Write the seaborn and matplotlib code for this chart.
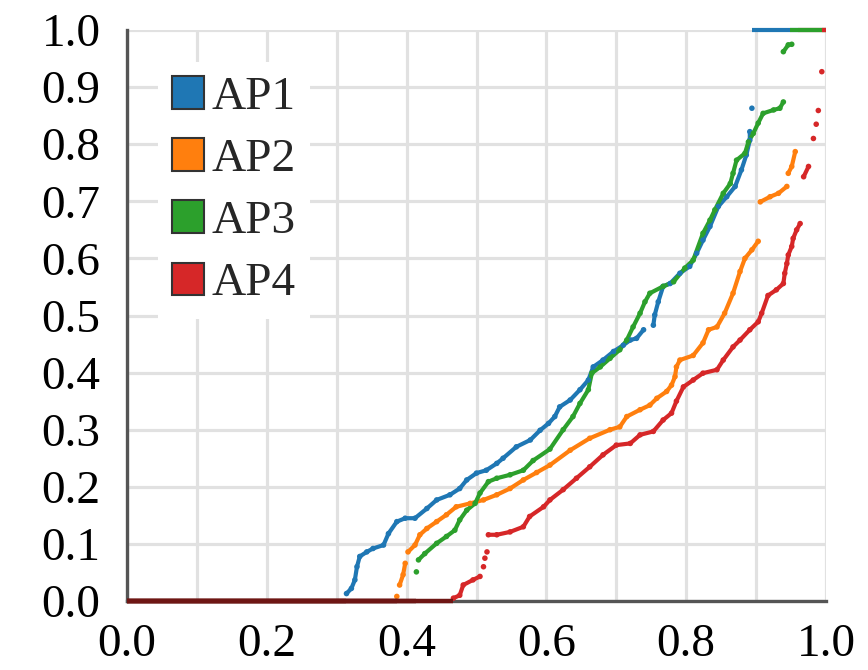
import numpy as np
import pandas as pd
import matplotlib
matplotlib.use("Agg")
import matplotlib.pyplot as plt
from matplotlib.patches import Patch
import seaborn as sns

# ---------------- data ----------------
series_names = ["AP1", "AP2", "AP3", "AP4"]
colors = ["#1f77b4", "#ff7f0e", "#2ca02c", "#d62728"]

ap1_x = [0.314, 0.321, 0.326, 0.329, 0.333, 0.343, 0.352, 0.367, 0.374, 0.386, 0.398, 0.412,
         0.429, 0.443, 0.462, 0.476, 0.486, 0.500, 0.514, 0.529, 0.538, 0.557, 0.577, 0.591,
         0.603, 0.612, 0.619, 0.634, 0.648, 0.660, 0.667, 0.681, 0.696, 0.710, 0.720, 0.729,
         0.739, 0.753, 0.755, 0.760, 0.767, 0.777, 0.791, 0.805, 0.815, 0.824, 0.834, 0.846,
         0.858, 0.870, 0.879, 0.886, 0.891, 0.891, 0.894]
ap1_y = [0.013, 0.022, 0.037, 0.060, 0.078, 0.086, 0.092, 0.098, 0.118, 0.139, 0.145, 0.145,
         0.162, 0.177, 0.186, 0.197, 0.212, 0.224, 0.229, 0.241, 0.250, 0.270, 0.282, 0.299,
         0.311, 0.323, 0.340, 0.352, 0.370, 0.387, 0.410, 0.422, 0.437, 0.448, 0.457, 0.460,
         0.475, 0.483, 0.501, 0.524, 0.551, 0.556, 0.574, 0.586, 0.609, 0.632, 0.656, 0.691,
         0.708, 0.726, 0.755, 0.781, 0.807, 0.822, 0.863]
ap1_breaks = [37, 54]

ap2_x = [0.386, 0.390, 0.395, 0.398, 0.402, 0.412, 0.419, 0.429, 0.443, 0.457, 0.471, 0.491,
         0.510, 0.529, 0.548, 0.567, 0.586, 0.605, 0.634, 0.662, 0.691, 0.705, 0.715, 0.734,
         0.748, 0.758, 0.772, 0.779, 0.784, 0.786, 0.791, 0.810, 0.824, 0.832, 0.844, 0.855,
         0.867, 0.877, 0.884, 0.894, 0.903, 0.906, 0.920, 0.932, 0.944, 0.946, 0.951, 0.956]
ap2_y = [0.008, 0.028, 0.046, 0.066, 0.086, 0.098, 0.116, 0.127, 0.139, 0.151, 0.165, 0.171,
         0.177, 0.186, 0.197, 0.212, 0.225, 0.238, 0.264, 0.285, 0.300, 0.305, 0.323, 0.335,
         0.343, 0.355, 0.367, 0.378, 0.393, 0.410, 0.422, 0.430, 0.452, 0.475, 0.480, 0.504,
         0.539, 0.577, 0.600, 0.615, 0.630, 0.699, 0.708, 0.714, 0.726, 0.749, 0.761, 0.787]
ap2_breaks = [1, 4, 41, 45]

ap3_x = [0.414, 0.417, 0.426, 0.443, 0.457, 0.469, 0.476, 0.486, 0.498, 0.505, 0.517, 0.529,
         0.548, 0.567, 0.581, 0.605, 0.624, 0.638, 0.648, 0.660, 0.665, 0.677, 0.691, 0.705,
         0.715, 0.724, 0.734, 0.741, 0.748, 0.767, 0.782, 0.798, 0.810, 0.824, 0.834, 0.841,
         0.853, 0.863, 0.867, 0.872, 0.884, 0.889, 0.896, 0.903, 0.910, 0.925, 0.934, 0.939,
         0.939, 0.946, 0.951]
ap3_y = [0.051, 0.072, 0.083, 0.101, 0.113, 0.124, 0.142, 0.159, 0.171, 0.189, 0.209, 0.215,
         0.221, 0.229, 0.246, 0.266, 0.300, 0.323, 0.346, 0.370, 0.399, 0.410, 0.425, 0.440,
         0.457, 0.480, 0.504, 0.524, 0.539, 0.551, 0.559, 0.583, 0.597, 0.644, 0.667, 0.685,
         0.714, 0.731, 0.749, 0.772, 0.784, 0.804, 0.819, 0.837, 0.854, 0.860, 0.863, 0.874,
         0.962, 0.974, 0.975]
ap3_breaks = [1, 48]

ap4_x = [0.467, 0.476, 0.481, 0.495, 0.505, 0.510, 0.512, 0.515, 0.517, 0.529, 0.548, 0.567,
         0.576, 0.596, 0.605, 0.624, 0.643, 0.662, 0.681, 0.700, 0.720, 0.734, 0.753, 0.767,
         0.779, 0.786, 0.796, 0.810, 0.824, 0.844, 0.853, 0.867, 0.877, 0.891, 0.903, 0.908,
         0.917, 0.929, 0.939, 0.941, 0.944, 0.946, 0.951, 0.953, 0.958, 0.963, 0.968, 0.975,
         0.982, 0.986, 0.989, 0.994]
ap4_y = [0.005, 0.010, 0.028, 0.037, 0.043, 0.060, 0.075, 0.086, 0.116, 0.116, 0.121, 0.130,
         0.148, 0.165, 0.177, 0.195, 0.215, 0.235, 0.256, 0.273, 0.276, 0.291, 0.297, 0.317,
         0.329, 0.350, 0.375, 0.387, 0.399, 0.405, 0.422, 0.445, 0.457, 0.475, 0.489, 0.504,
         0.535, 0.545, 0.556, 0.574, 0.591, 0.606, 0.621, 0.635, 0.650, 0.661, 0.743, 0.761,
         0.810, 0.835, 0.859, 0.927]
ap4_breaks = [5, 6, 7, 8, 46, 48, 49, 50, 51]

# x where each curve leaves 0 and where it sits at 1
zero_until = [0.314, 0.386, 0.414, 0.467]
one_from = [0.894, 0.960, 0.948, 0.994]

xs = [ap1_x, ap2_x, ap3_x, ap4_x]
ys = [ap1_y, ap2_y, ap3_y, ap4_y]
brks = [ap1_breaks, ap2_breaks, ap3_breaks, ap4_breaks]

y_ticks = [0.0, 0.1, 0.2, 0.3, 0.4, 0.5, 0.6, 0.7, 0.8, 0.9, 1.0]
x_ticks = [0.0, 0.2, 0.4, 0.6, 0.8, 1.0]

# ---------------- build table ----------------
rows = []
for name, x, y, b in zip(series_names, xs, ys, brks):
    seg = 0
    for i, (xi, yi) in enumerate(zip(x, y)):
        if i in b:
            seg += 1
        rows.append((name, seg, xi, yi))
df = pd.DataFrame(rows, columns=["series", "seg", "x", "y"])

# ---------------- style ----------------
sns.set_style("whitegrid")
plt.rcParams["font.family"] = ["Liberation Serif", "DejaVu Serif"]

fig = plt.figure(figsize=(8.68, 6.70), dpi=100)
ax = fig.add_axes([127 / 868, 1 - 601 / 670, 699 / 868, 571 / 670])

grid_c = "#e1e1e1"
ax.set_xlim(0, 1)
ax.set_ylim(0, 1)
ax.set_xticks(x_ticks)
ax.set_xticks([0.1, 0.3, 0.5, 0.7, 0.9], minor=True)
ax.set_yticks(y_ticks)
ax.set_xticklabels([f"{v:.1f}" for v in x_ticks])
ax.set_yticklabels([f"{v:.1f}" for v in y_ticks])
ax.grid(True, which="both", color=grid_c, linewidth=2.3)
ax.set_axisbelow(True)

for s in ["top", "right"]:
    ax.spines[s].set_visible(False)
for s in ["left", "bottom"]:
    ax.spines[s].set_color("#555555")
    ax.spines[s].set_linewidth(2.4)

ax.tick_params(axis="both", which="major", length=12, width=2.4, color="#555555",
               labelsize=34, labelcolor="black", direction="out")
ax.tick_params(axis="y", pad=7)
ax.tick_params(axis="x", pad=4)
ax.tick_params(axis="x", which="minor", length=0)

# curves: dense dot chains drawn as line + dots
sns.lineplot(data=df, x="x", y="y", hue="series", units="seg", estimator=None,
             sort=False, palette=colors, hue_order=series_names, linewidth=3.0,
             legend=False, ax=ax, clip_on=False, zorder=4)
sns.scatterplot(data=df, x="x", y="y", hue="series", palette=colors,
                hue_order=series_names, s=16, linewidth=0, legend=False, ax=ax,
                clip_on=False, zorder=4)

# runs at 0 and at 1
for i, c in enumerate(colors):
    ax.hlines(1.0, one_from[i], 1.0, color=c, linewidth=3.0, clip_on=False, zorder=4)
for i, c in enumerate(colors):
    ax.hlines(0.0, 0.0, zero_until[i], color="#6e1614", linewidth=3.2, clip_on=False, zorder=5)

ax.set_xlabel("")
ax.set_ylabel("")

handles = [Patch(facecolor=c, edgecolor="#333333", linewidth=1.5) for c in colors]
leg = ax.legend(handles=handles, labels=series_names, loc="upper left",
                bbox_to_anchor=(0.044, 0.944), borderaxespad=0, fontsize=34,
                frameon=True, fancybox=False, framealpha=1, facecolor="white",
                edgecolor="none", handlelength=0.68, handleheight=0.68,
                handletextpad=0.15, borderpad=0.3, labelspacing=0.41)
leg.set_zorder(6)

fig.savefig("out.png", dpi=100)
